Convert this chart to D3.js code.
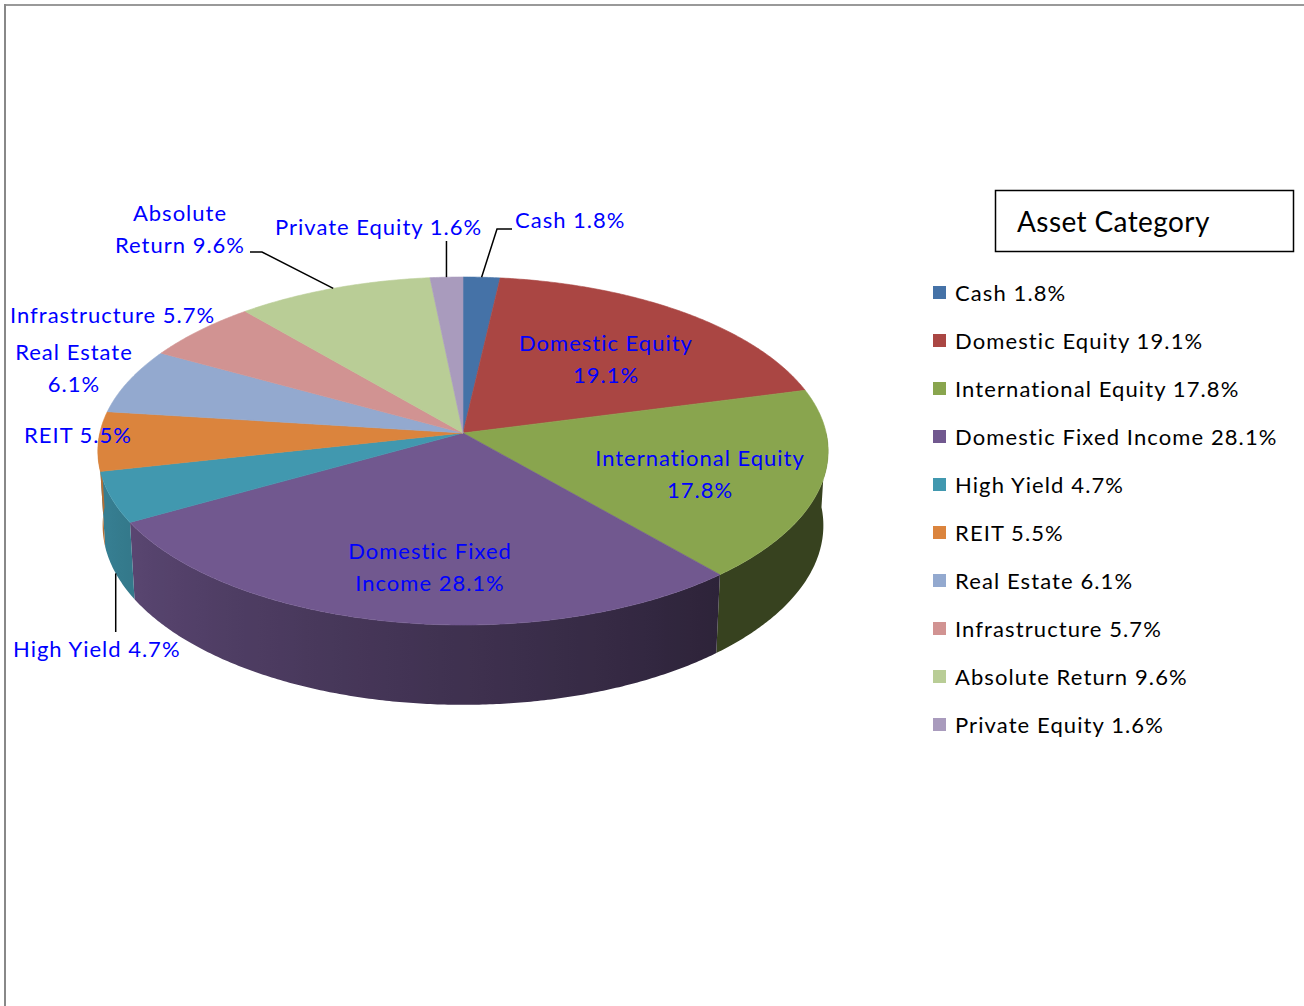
<!DOCTYPE html>
<html>
<head>
<meta charset="utf-8">
<script src="https://cdn.jsdelivr.net/npm/d3@7"></script>
<style>
  body { margin: 0; background: #fff; }
  text { font-family: Lato, "Open Sans", sans-serif; }
</style>
</head>
<body>
<div id="chart"></div>
<script>
// data
const categories = ["Cash", "Domestic Equity", "International Equity", "Domestic Fixed Income",
                    "High Yield", "REIT", "Real Estate", "Infrastructure", "Absolute Return", "Private Equity"];
const values = [1.8, 19.1, 17.8, 28.1, 4.7, 5.5, 6.1, 5.7, 9.6, 1.6];
const colors = ["#4572a7", "#aa4643", "#89a54e", "#71588f", "#4198af",
                "#db843d", "#93a9cf", "#d19392", "#b9cd96", "#a99bbd"];
const legendTitle = "Asset Category";

// label placement (brk = words on first line, leader = elbow points)
const labelLayout = [
  { x: 515, y: 228, anchor: "start", leader: [[497, 229], [512, 229]] },
  { x: 606, y: 351, anchor: "middle", brk: 2 },
  { x: 700, y: 466, anchor: "middle", brk: 2 },
  { x: 430, y: 559, anchor: "middle", brk: 2 },
  { x: 13, y: 657, anchor: "start", leader: [[null, 632]] },
  { x: 24, y: 443, anchor: "start" },
  { x: 74, y: 360, anchor: "middle", brk: 2 },
  { x: 10, y: 323, anchor: "start" },
  { x: 180, y: 221, anchor: "middle", brk: 1, leader: [[262, 252], [250, 252]] },
  { x: 275, y: 235, anchor: "start", leader: [[null, 241]] }
];

const W = 1304, H = 1006;
const svg = d3.select("#chart").append("svg")
              .attr("width", W)
              .attr("height", H);
const defs = svg.append("defs");

// outer frame
svg.append("line").attr("x1", 5).attr("y1", 5).attr("x2", W).attr("y2", 5)
   .attr("stroke", "#999").attr("stroke-width", 2);
svg.append("line").attr("x1", 5).attr("y1", 4).attr("x2", 5).attr("y2", H)
   .attr("stroke", "#888").attr("stroke-width", 2);

// perspective projection of a tilted disc
const cam = { cx: 463, cy: 433, k: 3087, D: 8.5, s: 0.474, c: 0.880, h: 0.235 };
function proj(theta, r, bottom) {
  const X = r * Math.sin(theta), Z = r * Math.cos(theta);
  const hh = bottom ? cam.h : 0;
  const depth = cam.D + cam.c * Z + cam.s * hh;
  const up = cam.s * Z - cam.c * hh;
  return [cam.cx + cam.k * X / depth, cam.cy - cam.k * up / depth];
}

const pie = d3.pie().sort(null).value(d => d.value);
const arcs = pie(categories.map((c, i) => ({ name: c, value: values[i], color: colors[i] })));

const step = Math.PI / 360;
function samples(a0, a1) {
  const n = Math.max(2, Math.ceil((a1 - a0) / step));
  return d3.range(n + 1).map(i => a0 + (a1 - a0) * i / n);
}

// wall shading, darker towards the right
const shade = d3.scaleLinear().domain([140, 250]).range([0.40, 0.83]).clamp(true);
function wallColor(base, theta) {
  const f = shade(theta * 180 / Math.PI);
  const c = d3.rgb(base);
  return d3.rgb(c.r * f, c.g * f, c.b * f).formatHex();
}

// front walls (only the half facing the viewer)
const walls = svg.append("g");
arcs.forEach((a, i) => {
  const a0 = Math.max(a.startAngle, Math.PI / 2), a1 = Math.min(a.endAngle, Math.PI * 1.5);
  if (a1 <= a0) return;
  const ts = samples(a0, a1);
  const top = ts.map(t => proj(t, 1, false));
  const bot = ts.map(t => proj(t, 1, true)).reverse();
  const xs = top.map(p => p[0]);
  const xmin = d3.min(xs), xmax = d3.max(xs);
  const stops = ts.filter((t, j) => j % 4 === 0 || j === ts.length - 1)
                  .map(t => ({
                    offset: xmax > xmin ? (proj(t, 1, false)[0] - xmin) / (xmax - xmin) : 0,
                    color: wallColor(a.data.color, t)
                  }))
                  .sort((p, q) => p.offset - q.offset);
  defs.append("linearGradient")
      .attr("id", "wall" + i)
      .attr("gradientUnits", "userSpaceOnUse")
      .attr("x1", xmin).attr("y1", 0)
      .attr("x2", xmax).attr("y2", 0)
      .selectAll("stop")
      .data(stops)
      .join("stop")
      .attr("offset", d => d.offset)
      .attr("stop-color", d => d.color);
  walls.append("path")
       .attr("d", d3.line()(top.concat(bot)) + "Z")
       .attr("fill", `url(#wall${i})`);
});

// top faces
svg.append("g").selectAll("path")
   .data(arcs)
   .join("path")
   .attr("d", a => d3.line()([[cam.cx, cam.cy]].concat(samples(a.startAngle, a.endAngle).map(t => proj(t, 1, false)))) + "Z")
   .attr("fill", a => a.data.color)
   .attr("stroke", a => a.data.color)
   .attr("stroke-width", 0.6);

// labels
const fmt = v => d3.format(".1f")(v) + "%";
const lab = svg.append("g");
arcs.forEach((a, i) => {
  const L = labelLayout[i];
  const words = (a.data.name + " " + fmt(a.data.value)).split(" ");
  const lines = L.brk ? [words.slice(0, L.brk).join(" "), words.slice(L.brk).join(" ")] : [words.join(" ")];
  const t = lab.append("text")
               .attr("x", L.x).attr("y", L.y)
               .attr("text-anchor", L.anchor)
               .attr("fill", "#0000ff")
               .attr("font-size", "22px")
               .attr("letter-spacing", "1px");
  lines.forEach((ln, j) => t.append("tspan").attr("x", L.x).attr("dy", j ? 32 : 0).text(ln));

  if (L.leader) {
    const mid = (a.startAngle + a.endAngle) / 2;
    const onBottom = Math.cos(mid) < 0;
    const p0 = proj(mid, 1, onBottom);
    const pts = [p0].concat(L.leader.map(p => [p[0] === null ? p0[0] : p[0], p[1]]));
    lab.append("path")
       .attr("d", d3.line()(pts))
       .attr("fill", "none")
       .attr("stroke", "#000")
       .attr("stroke-width", 1.5);
  }
});

// legend
svg.append("rect")
   .attr("x", 995.5).attr("y", 190.5)
   .attr("width", 298).attr("height", 61)
   .attr("fill", "#fff").attr("stroke", "#000").attr("stroke-width", 1.5);
svg.append("text")
   .attr("x", 1017).attr("y", 232)
   .attr("font-size", "28px")
   .attr("letter-spacing", "0.4px")
   .attr("fill", "#000")
   .text(legendTitle);

const legendY = d3.scalePoint().domain(categories).range([301, 733]);
const items = svg.append("g").selectAll("g")
   .data(arcs)
   .join("g")
   .attr("transform", a => `translate(0, ${legendY(a.data.name)})`);
items.append("rect")
     .attr("x", 933).attr("y", -15)
     .attr("width", 13).attr("height", 13)
     .attr("fill", a => a.data.color);
items.append("text")
     .attr("x", 955).attr("y", 0)
     .attr("font-size", "22px")
     .attr("letter-spacing", "1.1px")
     .attr("fill", "#000")
     .text(a => a.data.name + " " + fmt(a.data.value));
</script>
</body>
</html>
